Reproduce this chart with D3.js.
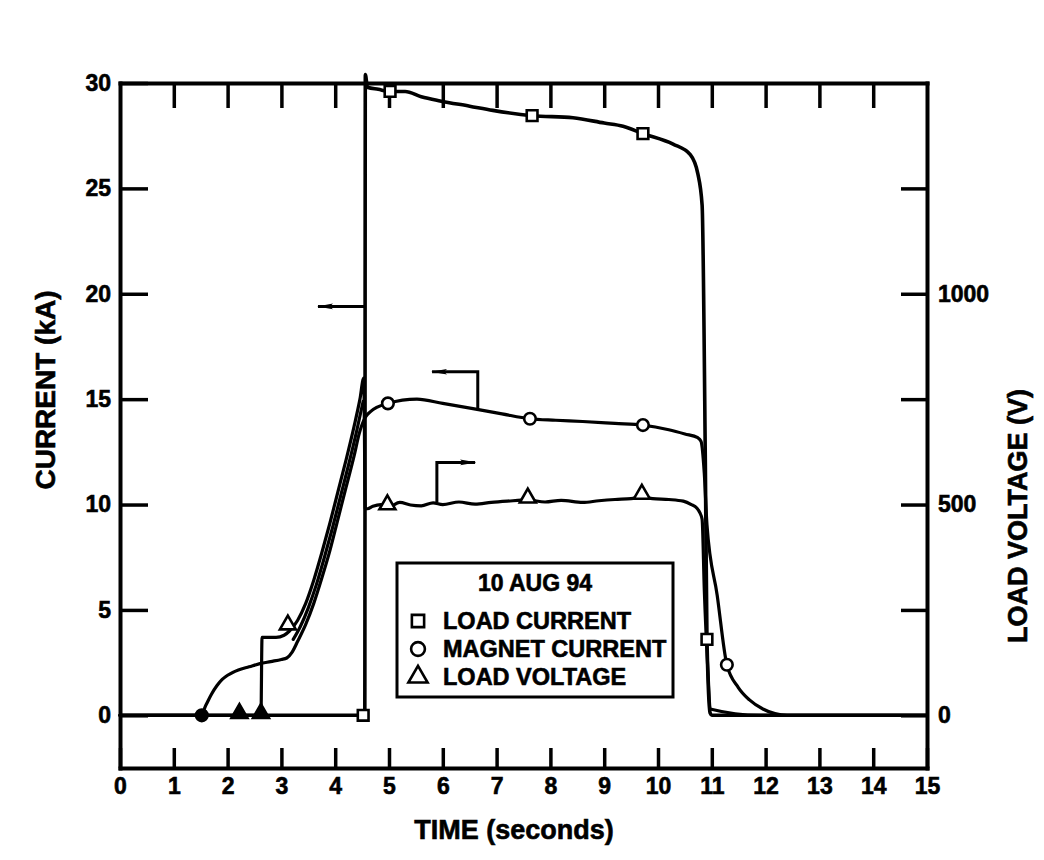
<!DOCTYPE html>
<html>
<head>
<meta charset="utf-8">
<script src="https://cdn.jsdelivr.net/npm/d3@7"></script>
<style>
  html, body { margin: 0; padding: 0; background: #fff; }
  svg { display: block; }
  text { font-family: "Liberation Sans", Arial, Helvetica, sans-serif; font-weight: bold; fill: #000; stroke: #000; stroke-width: 0.6px; }
</style>
</head>
<body>
<script>
// ---------------- DATA ----------------
// time in seconds, currents in kA, voltage in V
const xTicks = [0,1,2,3,4,5,6,7,8,9,10,11,12,13,14,15];
const topTicks = [1,2,3,4,5,6,7,8,9,10,11,12,13,14];
const currentTicks = [0,5,10,15,20,25,30];
const voltageTicks = [0,250,500,750,1000,1250];
const voltageLabels = [0,500,1000];

const loadCurrent = [
  [0,0],[4.52,0],[4.55,0],[4.56,30.4],[4.6,29.8],[4.8,29.7],[5.02,29.6],[5.3,29.6],
  [5.6,29.35],[5.95,29.15],[6.5,28.9],[6.93,28.7],[7.66,28.45],[8.42,28.35],[9.0,28.1],
  [9.35,27.95],[9.72,27.6],[10.28,27.1],[10.6,26.6],[10.74,25.7],[10.82,24.2],[10.88,12],
  [10.91,3.6],[10.97,0.1],[11.0,0],[15,0]
];
const loadCurrentMarkers = [[4.52,0],[5.02,29.6],[7.66,28.45],[9.72,27.6],[10.91,3.6]];

const magnetCurrent = [
  [0,0],[1.5,0],[1.6,0.5],[1.7,1.0],[1.8,1.4],[1.9,1.7],[2.0,1.9],[2.2,2.15],[2.4,2.3],
  [2.6,2.45],[2.8,2.55],[3.0,2.65],[3.1,2.72],[3.2,3.0],[3.3,3.5],[3.45,4.3],[3.6,5.3],
  [3.75,6.5],[3.9,7.8],[4.05,9.3],[4.2,10.8],[4.35,12.3],[4.45,13.4],[4.55,14.1],
  [4.65,14.4],[4.98,14.8],[5.52,15.0],[6.0,14.8],[6.56,14.55],[7.1,14.3],[7.62,14.07],
  [8.1,14.0],[8.6,13.94],[9.2,13.85],[9.72,13.77],[10.2,13.55],[10.5,13.35],[10.74,13.17],
  [10.8,13.0],[10.86,11.5],[10.91,9.05],[11.1,5.7],[11.28,2.4],[11.49,1.33],[11.7,0.73],
  [11.95,0.3],[12.4,0.0],[15,0]
];
const magnetCurrentMarkers = [[1.52,0],[4.98,14.8],[7.62,14.07],[9.72,13.77],[11.28,2.4]];

// unlabeled companion trace seen between the two rising curves (kA)
const companionTrace = [
  [3.22,3.6],[3.35,4.2],[3.5,5.1],[3.65,6.2],[3.8,7.5],[3.95,8.9],[4.1,10.4],[4.25,11.9],
  [4.4,13.5],[4.52,14.9]
];

const loadVoltage = [
  [0,0],[2.22,0],[2.62,0],[2.64,185],[2.9,185],[3.05,190],[3.15,200],[3.3,225],[3.45,265],
  [3.6,320],[3.75,385],[3.9,455],[4.05,530],[4.2,605],[4.35,685],[4.46,750],[4.53,800],
  [4.56,490],[4.6,490],[4.7,496],[4.85,500],[5.0,495],[5.2,505],[5.4,499],[5.6,497],
  [5.82,504],[6.0,500],[6.3,506],[6.6,501],[6.9,505],[7.2,508],[7.58,511],[7.9,506],
  [8.2,510],[8.6,505],[8.9,509],[9.2,512],[9.5,514],[9.7,519],[9.9,514],[10.2,512],
  [10.47,508],[10.62,500],[10.72,492],[10.78,480],[10.82,465],[10.86,300],[10.93,100],
  [10.97,15],[11.9,0],[15,0]
];
const loadVoltageMarkers = [[2.22,0],[2.62,0],[3.12,210],[4.97,495],[7.58,511],[9.7,520]];

// annotation arrows (tip is the last point)
const loadCurrentArrow = [[4.55,19.4],[3.68,19.4]];       // kA
const magnetArrow = [[6.65,14.5],[6.65,16.3],[5.8,16.3]]; // kA
const voltageArrow = [[5.89,505],[5.89,600],[6.6,600]];   // V

const legendTitle = "10 AUG 94";
const legendItems = [
  {label: "LOAD CURRENT", symbol: "square"},
  {label: "MAGNET CURRENT", symbol: "circle"},
  {label: "LOAD VOLTAGE", symbol: "triangle"}
];

// ---------------- CHART ----------------
const W = 1044, H = 860;
const L = 120, R = 927, T = 83, B = 768;

const svg = d3.select("body").append("svg").attr("width", W).attr("height", H);

const x = d3.scaleLinear().domain([0,15]).range([L,R]);
const y = d3.scaleLinear().domain([-2.5,30]).range([B,T]);
const yV = d3.scaleLinear().domain([-125,1500]).range([B,T]);

const tickFont = 23;

// axes
const gB = svg.append("g").attr("transform", `translate(0,${B})`)
  .call(d3.axisBottom(x).tickValues(xTicks).tickSizeInner(-20).tickSizeOuter(0).tickPadding(10).tickFormat(d3.format("d")));
const gT = svg.append("g").attr("transform", `translate(0,${T})`)
  .call(d3.axisTop(x).tickValues(topTicks).tickSizeInner(-25).tickSizeOuter(0).tickFormat(""));
const gL = svg.append("g").attr("transform", `translate(${L},0)`)
  .call(d3.axisLeft(y).tickValues(currentTicks).tickSizeInner(-28).tickSizeOuter(0).tickPadding(9).tickFormat(d3.format("d")));
const gR = svg.append("g").attr("transform", `translate(${R},0)`)
  .call(d3.axisRight(yV).tickValues(voltageTicks).tickSizeInner(-26).tickSizeOuter(0).tickPadding(11)
    .tickFormat(d => voltageLabels.includes(d) ? String(d) : ""));

[gB, gT, gL, gR].forEach(g => {
  g.select(".domain").attr("stroke", "#000").attr("stroke-width", 4).attr("stroke-linecap", "square");
  g.selectAll(".tick line").attr("stroke", "#000").attr("stroke-width", 3.5);
  g.selectAll(".tick text").attr("font-size", tickFont).attr("font-family", "Liberation Sans, Arial, sans-serif")
    .attr("font-weight", "bold").attr("fill", "#000");
});

// axis titles
svg.append("text").attr("transform", "translate(55,390) rotate(-90)")
  .attr("text-anchor", "middle").attr("font-size", 28).text("CURRENT (kA)");
svg.append("text").attr("transform", "translate(1027,516) rotate(-90)")
  .attr("text-anchor", "middle").attr("font-size", 27).text("LOAD VOLTAGE (V)");
svg.append("text").attr("x", 514).attr("y", 839)
  .attr("text-anchor", "middle").attr("font-size", 27).text("TIME (seconds)");

// lines
const lineI = d3.line().curve(d3.curveMonotoneX).x(d => x(d[0])).y(d => y(d[1]));
const lineV = d3.line().curve(d3.curveMonotoneX).x(d => x(d[0])).y(d => yV(d[1]));
const lineIs = d3.line().x(d => x(d[0])).y(d => y(d[1]));
const lineVs = d3.line().x(d => x(d[0])).y(d => yV(d[1]));

const lines = svg.append("g").attr("fill", "none").attr("stroke", "#000")
  .attr("stroke-width", 3.2).attr("stroke-linejoin", "round").attr("stroke-linecap", "round");
lines.append("path").attr("d", lineI(magnetCurrent));
lines.append("path").attr("d", lineI(companionTrace));
lines.append("path").attr("d", lineV(loadVoltage));
lines.append("path").attr("d", lineI(loadCurrent)).attr("stroke-width", 3.6);

// arrows
const defs = svg.append("defs");
defs.append("marker").attr("id", "dart").attr("viewBox", "0 0 16 8")
  .attr("refX", 15).attr("refY", 4).attr("markerWidth", 16).attr("markerHeight", 8)
  .attr("markerUnits", "userSpaceOnUse").attr("orient", "auto")
  .append("path").attr("d", "M0,1.2 L16,4 L0,6.8 L3,4 Z").attr("fill", "#000");

const arrows = svg.append("g").attr("fill", "none").attr("stroke", "#000").attr("stroke-width", 3);
arrows.append("path").attr("d", lineIs(loadCurrentArrow)).attr("marker-end", "url(#dart)");
arrows.append("path").attr("d", lineIs(magnetArrow)).attr("marker-end", "url(#dart)");
arrows.append("path").attr("d", lineVs(voltageArrow)).attr("marker-end", "url(#dart)");

// markers (those sitting on the early zero baseline appear solid in the original)
const solid = d => d[1] === 0 && d[0] < 4;
const sym = {
  square: d3.symbol().type(d3.symbolSquare).size(115),
  circle: d3.symbol().type(d3.symbolCircle).size(105),
  triangle: d3.symbol().type(d3.symbolTriangle).size(110)
};
const mk = svg.append("g").attr("stroke", "#000").attr("stroke-width", 2.6);
mk.selectAll(".sq").data(loadCurrentMarkers).join("path")
  .attr("fill", d => solid(d) ? "#000" : "#fff")
  .attr("transform", d => `translate(${x(d[0])},${y(d[1])})`).attr("d", sym.square());
mk.selectAll(".ci").data(magnetCurrentMarkers).join("path")
  .attr("fill", d => solid(d) ? "#000" : "#fff")
  .attr("transform", d => `translate(${x(d[0])},${y(d[1])})`).attr("d", sym.circle());
mk.selectAll(".tr").data(loadVoltageMarkers).join("path")
  .attr("fill", d => solid(d) ? "#000" : "#fff")
  .attr("transform", d => `translate(${x(d[0])},${yV(d[1]) - 2})`).attr("d", sym.triangle());

// legend
const lg = svg.append("g");
lg.append("rect").attr("x", 397).attr("y", 563).attr("width", 276).attr("height", 134)
  .attr("fill", "#fff").attr("stroke", "#000").attr("stroke-width", 3);
lg.append("text").attr("x", 535).attr("y", 591).attr("text-anchor", "middle")
  .attr("font-size", 23).text(legendTitle);
const legendBase = [629, 657, 685];
legendItems.forEach((it, i) => {
  lg.append("path").attr("transform", `translate(418,${legendBase[i] - 8})`)
    .attr("d", d3.symbol().type(it.symbol === "square" ? d3.symbolSquare : it.symbol === "circle" ? d3.symbolCircle : d3.symbolTriangle)
      .size(it.symbol === "triangle" ? 160 : 150)())
    .attr("fill", "#fff").attr("stroke", "#000").attr("stroke-width", 2.6);
  lg.append("text").attr("x", 443).attr("y", legendBase[i]).attr("font-size", 23.5).text(it.label);
});
</script>
</body>
</html>
